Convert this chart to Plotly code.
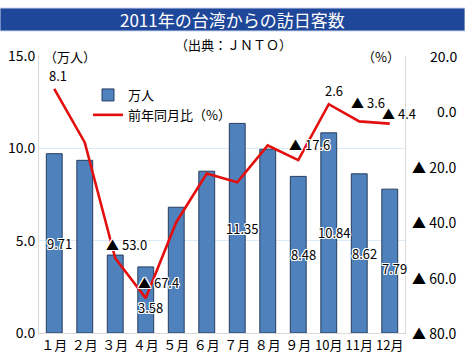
import plotly.graph_objects as go

months = ["１月", "２月", "３月", "４月", "５月", "６月", "７月", "８月", "９月", "10月", "11月", "12月"]
visitors = [9.71, 9.35, 4.22, 3.58, 6.81, 8.76, 11.35, 9.95, 8.48, 10.84, 8.62, 7.79]
visitor_labels = ["9.71", "", "", "3.58", "", "", "11.35", "", "8.48", "10.84", "8.62", "7.79"]
yoy = [8.1, -11.2, -53.0, -67.4, -40.0, -22.4, -25.6, -12.3, -17.6, 2.6, -3.6, -4.4]
yoy_labels = ["8.1", "", "▲ 53.0", "▲ 67.4", "", "", "", "", "▲ 17.6", "2.6", "▲ 3.6", "▲ 4.4"]
left_ticks = [0, 5, 10, 15]
right_ticks = [-80, -60, -40, -20, 0, 20]
right_tick_text = ["▲ 80.0", "▲ 60.0", "▲ 40.0", "▲ 20.0", "0.0", "20.0"]

# style: pixel nudges (x, y) for labels, as placed in the original
bar_label_nudge = {3: (5, -8), 11: (5, -7)}
line_label_nudge = {0: (4, 13), 2: (11, 14), 3: (13, 16), 8: (11, 16), 9: (5, 14), 10: (9, 19), 11: (9, 10)}

FONT = "Noto Sans CJK JP"
halo = "1px 1px 0 #fff, -1px -1px 0 #fff, 1px -1px 0 #fff, -1px 1px 0 #fff, 0 1px 0 #fff, 0 -1px 0 #fff, 1px 0 0 #fff, -1px 0 0 #fff"
xs = list(range(len(months)))

fig = go.Figure()
fig.add_trace(go.Bar(
    x=xs, y=visitors, name="万人", width=0.52,
    marker=dict(color="#4F81BD", line=dict(color="#263E5E", width=1)),
))
fig.add_trace(go.Scatter(
    x=xs, y=yoy, name="前年同月比（%）", yaxis="y2", mode="lines",
    line=dict(color="#E30F0F", width=2.6),
))

W, H = 465, 361
L, R, T, B = 39, 60, 56, 28
pw, ph = W - L - R, H - T - B

def px_x(x):
    return (x - L) / pw

def px_y(y):
    return (H - B - y) / ph

label_font = dict(family=FONT, size=13, color="#000", shadow=halo)
annotations = []
for i, (v, t) in enumerate(zip(visitors, visitor_labels)):
    if t:
        dx, dy = bar_label_nudge.get(i, (5, 0))
        annotations.append(dict(x=i, xref="x", y=v / 2, yref="y", text=t, showarrow=False,
                                xanchor="center", yanchor="middle",
                                xshift=dx, yshift=dy, font=label_font))
for i, (v, t) in enumerate(zip(yoy, yoy_labels)):
    if t:
        dx, dy = line_label_nudge.get(i, (10, 15))
        annotations.append(dict(x=i, xref="x", y=v, yref="y2", text=t, showarrow=False,
                                xanchor="center", yanchor="middle",
                                xshift=dx, yshift=dy, font=label_font))
for v, t in zip(right_ticks, right_tick_text):
    annotations.append(dict(x=1, xref="paper", y=v, yref="y2", text=t, showarrow=False,
                            xanchor="right", yanchor="middle", xshift=54,
                            font=dict(family=FONT, size=14, color="#000")))
annotations += [
    dict(x=px_x(232), y=px_y(19.5), xref="paper", yref="paper", text="2011年の台湾からの訪日客数",
         xanchor="center", yanchor="middle",
         showarrow=False, font=dict(family=FONT, size=17, color="#fff")),
    dict(x=px_x(233), y=px_y(44), xref="paper", yref="paper", text="（出典：ＪＮＴＯ）",
         xanchor="center", yanchor="middle",
         showarrow=False, font=dict(family=FONT, size=13, color="#000")),
    dict(x=px_x(42), y=px_y(56), xref="paper", yref="paper", text="（万人）", xanchor="left",
         yanchor="middle", showarrow=False, font=dict(family=FONT, size=13, color="#000")),
    dict(x=px_x(402), y=px_y(56), xref="paper", yref="paper", text="（%）", xanchor="right",
         yanchor="middle", showarrow=False, font=dict(family=FONT, size=13, color="#000")),
]

fig.update_layout(
    width=W, height=H, margin=dict(l=L, r=R, t=T, b=B, autoexpand=False),
    paper_bgcolor="#fff", plot_bgcolor="#fff",
    font=dict(family=FONT, size=13, color="#000"),
    showlegend=True,
    legend=dict(x=px_x(88), y=px_y(80), xanchor="left", yanchor="top", bgcolor="rgba(0,0,0,0)",
                font=dict(family=FONT, size=13, color="#000"), tracegroupgap=0, itemwidth=30),
    xaxis=dict(tickmode="array", tickvals=xs, ticktext=months, range=[-0.5, 11.5],
               showgrid=False, showline=True, linecolor="#D9D9D9", linewidth=1,
               ticks="", zeroline=False, tickfont=dict(size=13), automargin=False),
    yaxis=dict(range=[0, 15], tickvals=left_ticks, tickformat=".1f", showgrid=True,
               gridcolor="#DDEBF7", gridwidth=1, showline=True, linecolor="#D9D9D9",
               zeroline=False, ticks="", tickfont=dict(size=14), automargin=False),
    yaxis2=dict(range=[-80, 20], tickvals=right_ticks, overlaying="y", side="right",
                showgrid=False, showticklabels=False, showline=True, linecolor="#D9D9D9",
                zeroline=False, ticks="", automargin=False),
    shapes=[dict(type="rect", xref="paper", yref="paper", x0=px_x(0), x1=px_x(465),
                 y0=px_y(31), y1=px_y(8), fillcolor="#1F4799", line=dict(color="#C9D6EE", width=1),
                 layer="below")],
    annotations=annotations,
)

fig.write_html("out.html", config={"displayModeBar": False},
               post_script="document.body.style.margin='0';document.body.style.padding='0';")
